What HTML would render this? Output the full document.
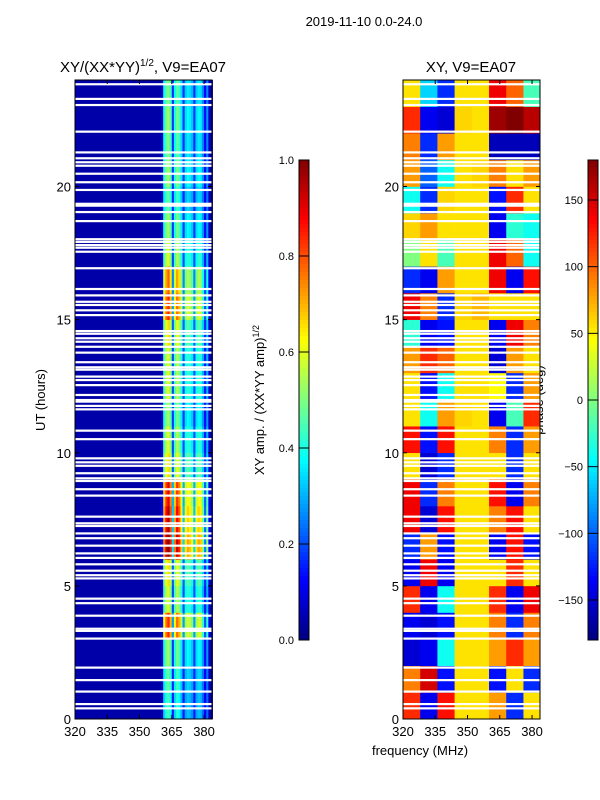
<!DOCTYPE html>
<html><head><meta charset="utf-8"><style>
html,body{margin:0;padding:0;background:#fff;}
svg{display:block;font-family:"Liberation Sans","DejaVu Sans",sans-serif;}
</style></head><body>
<svg id="fig" width="600" height="800" viewBox="0 0 600 800" xmlns="http://www.w3.org/2000/svg">
<text x="364" y="26" font-size="13" text-anchor="middle">2019-11-10 0.0-24.0</text>
<text x="143" y="72" font-size="15" text-anchor="middle">XY/(XX*YY)<tspan font-size="10" dy="-6">1/2</tspan><tspan dy="6">, V9=EA07</tspan></text>
<text x="471" y="72" font-size="15" text-anchor="middle">XY, V9=EA07</text>
<text transform="translate(45,400) rotate(-90)" font-size="13" text-anchor="middle">UT (hours)</text>
<text x="420" y="755" font-size="13" text-anchor="middle">frequency (MHz)</text>
<text transform="translate(264,400) rotate(-90)" font-size="13" text-anchor="middle">XY amp. / (XX*YY amp)<tspan font-size="9" dy="-5">1/2</tspan></text>
<text transform="translate(543,400) rotate(-90)" font-size="13" text-anchor="middle">phase (deg)</text>
<g id="ampPanel"></g>
<g id="phasePanel"></g>
<g id="axes"></g>
<g id="cbars"></g>
</svg>
<script>
// ---- data ----
const xTicks = [320, 335, 350, 365, 380];
const yTicks = [0, 5, 10, 15, 20];
const ampTicks = [0.0, 0.2, 0.4, 0.6, 0.8, 1.0];
const phaseTicks = [-150, -100, -50, 0, 50, 100, 150];
// flagged (white) time rows in hours
const gapHours = [23.84,23.29,23.06,22.06,21.28,21.06,20.91,20.78,20.48,20.16,19.87,19.35,19.28,19.04,18.70,18.02,17.92,17.80,17.70,17.55,16.93,16.15,15.91,15.67,15.55,15.35,15.17,14.57,14.47,14.30,14.17,13.98,13.76,13.40,13.21,13.12,12.86,12.73,12.54,12.17,11.98,11.92,11.76,11.63,10.83,10.51,9.79,9.64,9.51,9.23,9.04,8.94,8.63,8.39,7.60,7.35,7.25,6.97,6.79,6.51,6.22,6.05,5.81,5.57,5.40,5.28,4.52,4.35,3.88,3.39,3.31,3.02,1.93,1.46,1.03,0.56,0.40];
// amplitude spectral profile, 1-MHz channels 360..383 (below 360 = background)
const ampBgValue = 0.04;
const ampProfileStart = 360;
const ampProfile = [0.08,0.45,0.55,0.6,0.5,0.2,0.45,0.55,0.5,0.4,0.2,0.38,0.42,0.4,0.36,0.2,0.38,0.42,0.4,0.3,0.15,0.3,0.08,0.05];
// amplitude time scaling per hour (0..23)
const ampHourScale = [0.75,0.8,0.9,1.4,1.0,1.1,1.7,1.6,1.5,1.1,1.0,0.9,1.0,1.0,1.1,1.4,1.3,1.0,0.9,0.8,0.9,0.85,0.9,0.85];
// phase grid: 8 freq columns (8 MHz each from 320), one row per hour, hour 0..23
const phaseHours = [
 [120,-140,130,55,55,80,-120,55],
 [90,150,-130,55,55,-130,55,-120],
 [-150,-140,-40,55,55,80,120,80],
 [-140,-150,-130,55,55,90,-120,90],
 [120,-140,-40,55,55,120,-140,140],
 [-140,140,-140,55,55,55,120,55],
 [-120,80,-130,55,55,-140,130,-130],
 [140,-150,130,55,55,90,130,55],
 [140,-120,90,55,55,130,-140,90],
 [55,-150,-120,55,55,55,-120,55],
 [130,-130,130,55,55,90,-120,80],
 [55,-40,80,60,55,-140,-20,120],
 [55,-130,-40,55,55,45,-120,80],
 [80,120,100,55,55,-150,80,55],
 [-30,-140,-130,55,55,-140,140,90],
 [140,90,-120,60,70,55,55,55],
 [-120,-140,80,55,55,140,-140,130],
 [0,55,-20,55,55,140,100,-40],
 [60,80,55,55,55,-140,-30,-40],
 [-40,-120,60,55,55,-130,120,55],
 [80,-100,-40,55,60,90,55,80],
 [90,-120,80,55,55,-160,-160,-160],
 [120,-140,-150,60,55,170,180,160],
 [55,-60,-120,55,55,140,100,-20]
];
// ---- geometry ----
const NS='http://www.w3.org/2000/svg';
const T=80,B=719;
const panels=[{x0:75,x1:212,g:'ampPanel'},{x0:403,x1:540,g:'phasePanel'}];
const fMin=320,fMax=383.7;
function yScale(h){return B-(B-T)*h/24;}
function xScale(p,f){return p.x0+(p.x1-p.x0)*(f-fMin)/(fMax-fMin);}
function jet(v){v=Math.max(0,Math.min(1,v));
 const r=Math.min(4*v-1.5,-4*v+4.5),g=Math.min(4*v-0.5,-4*v+3.5),b=Math.min(4*v+0.5,-4*v+2.5);
 const c=x=>Math.round(255*Math.max(0,Math.min(1,x)));return 'rgb('+c(r)+','+c(g)+','+c(b)+')';}
function mk(tag,attrs,parent){const e=document.createElementNS(NS,tag);for(const k in attrs)e.setAttribute(k,attrs[k]);parent.appendChild(e);return e;}
// amplitude heatmap
{const p=panels[0],g=document.getElementById(p.g);
 mk('rect',{x:p.x0,y:T,width:p.x1-p.x0,height:B-T,fill:jet(ampBgValue)},g);
 for(let h=0;h<24;h++){for(let i=0;i<ampProfile.length;i++){
  const f=ampProfileStart+i;const v=ampProfile[i]*ampHourScale[h];
  const x=xScale(p,f),w=xScale(p,f+1)-x;
  const r=mk('rect',{x:x,y:yScale(h+1),width:w+0.3,height:yScale(h)-yScale(h+1)+0.3,fill:jet(v)},g);
  
  
 }}}
// phase heatmap
{const p=panels[1],g=document.getElementById(p.g);
 for(let h=0;h<phaseHours.length;h++){for(let c=0;c<8;c++){
  const f0=fMin+c*8,f1=Math.min(fMax,f0+8);
  const x=xScale(p,f0),w=xScale(p,f1)-x;
  const r=mk('rect',{x:x,y:yScale(h+1),width:w+0.3,height:yScale(h)-yScale(h+1)+0.3,fill:jet((phaseHours[h][c]+180)/360)},g);
  
  
 }}}
// gaps + axes
const ax=document.getElementById('axes');
panels.forEach((p,pi)=>{
 gapHours.forEach(h=>{const r=mk('rect',{x:p.x0,y:yScale(h)-1.1,width:p.x1-p.x0,height:2.2,fill:'#fff'},ax);
  
  });
 const fr=mk('rect',{x:p.x0,y:T,width:p.x1-p.x0,height:B-T,fill:'none',stroke:'#000','stroke-width':1},ax);
 
 
 xTicks.forEach(t=>{const x=xScale(p,t);
  mk('line',{x1:x,y1:B,x2:x,y2:B-4,stroke:'#000'},ax);mk('line',{x1:x,y1:T,x2:x,y2:T+4,stroke:'#000'},ax);
  const tx=mk('text',{x:x,y:B+17,'font-size':13,'text-anchor':'middle'},ax);tx.textContent=t;
  
  });
 yTicks.forEach(t=>{const y=yScale(t);
  mk('line',{x1:p.x0,y1:y,x2:p.x0+4,y2:y,stroke:'#000'},ax);mk('line',{x1:p.x1,y1:y,x2:p.x1-4,y2:y,stroke:'#000'},ax);
  const tx=mk('text',{x:p.x0-4,y:y+5,'font-size':13,'text-anchor':'end'},ax);tx.textContent=t;
  
  });
});
// colorbars
const cb=document.getElementById('cbars');
const cbT=160,cbB=640;
[{x:299,ticks:ampTicks,lo:0,hi:1,fmt:t=>t.toFixed(1)},{x:588,ticks:phaseTicks,lo:-180,hi:180,fmt:t=>String(t).replace('-','\u2212')}].forEach((c,ci)=>{
 for(let i=0;i<120;i++){const y=cbT+(cbB-cbT)*i/120;
  mk('rect',{x:c.x,y:y,width:10,height:(cbB-cbT)/120+0.5,fill:jet(1-(i+0.5)/120)},cb);}
 const fr=mk('rect',{x:c.x,y:cbT,width:10,height:cbB-cbT,fill:'none',stroke:'#000'},cb);
 
 
 c.ticks.forEach(t=>{const y=cbB-(cbB-cbT)*(t-c.lo)/(c.hi-c.lo);
  mk('line',{x1:c.x,y1:y,x2:c.x+10,y2:y,stroke:'#000'},cb);
  const tx=mk('text',{x:c.x-5,y:y+4,'font-size':11,'text-anchor':'end'},cb);tx.textContent=c.fmt(t);
  
  });
});
</script>
</body></html>
